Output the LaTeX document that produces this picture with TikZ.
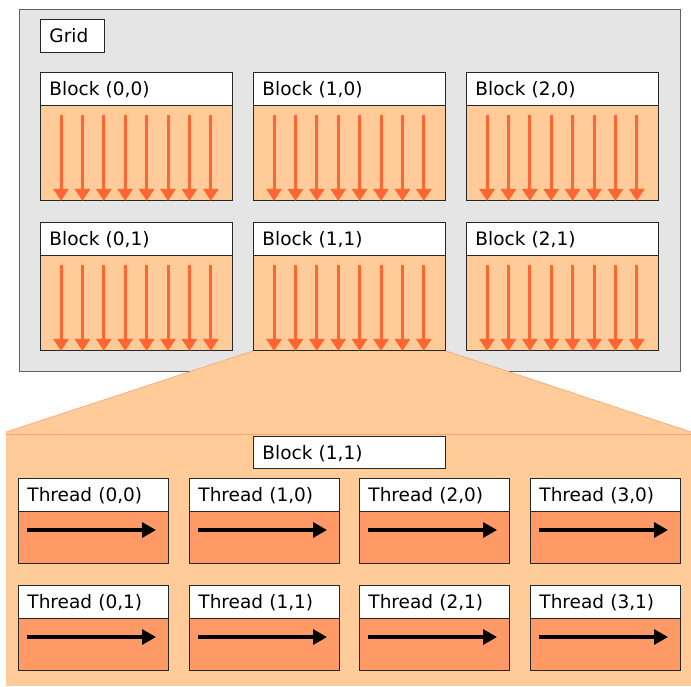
\documentclass[tikz,border=0pt]{standalone}
\usepackage{fontspec}
\setmainfont{DejaVu Sans}
\usetikzlibrary{arrows.meta,calc}
\definecolor{gridgray}{HTML}{E5E5E5}
\definecolor{gridedge}{HTML}{606060}
\definecolor{peach}{HTML}{FFCC99}
\definecolor{peachedge}{HTML}{FFA070}
\definecolor{threadorange}{HTML}{FF9966}
\definecolor{arroworange}{HTML}{FF6633}
\begin{document}
\begin{tikzpicture}[x=1pt,y=-1pt,
  font=\fontsize{18.5}{21}\selectfont,
  hdr/.style={draw=black!85, fill=white, line width=0.9pt, anchor=north west,
    inner xsep=9pt, inner ysep=0pt, align=left, minimum height=33pt,
    text height=15.5pt, text depth=2pt},
  blockhdr/.style={hdr, text width=174pt},
  threadhdr/.style={hdr, inner xsep=9pt, text width=132pt},
  blockbody/.style={draw=black!85, fill=peach, line width=0.9pt, anchor=north west,
    inner sep=0pt, minimum width=192pt, minimum height=95pt},
  threadbody/.style={draw=black!85, fill=threadorange, line width=0.9pt, anchor=north west,
    inner sep=0pt, minimum width=150pt, minimum height=52pt},
  flow/.style={draw=arroworange, line width=3pt, -{Triangle[length=12pt,width=15pt]}},
  run/.style={draw=black, line width=3.2pt, -{Triangle[length=14pt,width=15pt]}},
]
\useasboundingbox (0,0) rectangle (691,686);

% the grid
\node[draw=gridedge, fill=gridgray, line width=0.9pt, anchor=north west, inner sep=0pt,
  minimum width=661pt, minimum height=362pt] (grid) at (19,9) {};
\node[hdr, text width=46pt] (gridlbl) at (40,19) {Grid};

% blocks of the grid, each with its eight threads running downwards
\foreach \bx/\x in {0/40,1/253,2/466}{
  \foreach \by/\y in {0/72,1/222}{
    \node[blockhdr] (b\bx\by h) at (\x,\y) {Block (\bx,\by)};
    \node[blockbody] (b\bx\by) at (\x,\y+33) {};
  }
}

% zoom-out fan from block (1,1) to its detailed view
\fill[peach] (b11.south west) -- (b11.south east) -- (691,432) -- (691,436) -- (6,436) -- (6,432) -- cycle;
\draw[peachedge, line width=0.6pt] (b11.south east) -- (691,432);
\draw[peachedge, line width=0.6pt] (b11.south west) -- (6,432);
\node[blockbody] (b11again) at (253,255) {};

\foreach \bx in {0,1,2}{
  \foreach \by in {0,1}{
    \foreach \i in {0,...,7}{
      \draw[flow] ($(b\bx\by.north west)+(21+21.4*\i,10)$) -- ($(b\bx\by.south west)+(21+21.4*\i,0)$);
    }
  }
}

% detailed view of block (1,1)
\node[fill=peach, anchor=north west, inner sep=0pt, minimum width=685pt, minimum height=252pt] (detail) at (6,434) {};
\draw[peachedge, line width=0.8pt] (detail.north west) -- (detail.north east);
\node[blockhdr, minimum height=32pt] (detlbl) at (253,436) {Block (1,1)};

\foreach \tx/\x in {0/18,1/189,2/359,3/530}{
  \foreach \ty/\y in {0/478,1/585}{
    \node[threadhdr] (t\tx\ty h) at (\x,\y) {Thread (\tx,\ty)};
    \node[threadbody] (t\tx\ty) at (\x,\y+33) {};
    \coordinate (t\tx\ty s) at ($(t\tx\ty.north west)+(9,19)$);
    \coordinate (t\tx\ty e) at ($(t\tx\ty.north west)+(138,19)$);
    \draw[run] (t\tx\ty s) -- (t\tx\ty e);
  }
}
\end{tikzpicture}
\end{document}
